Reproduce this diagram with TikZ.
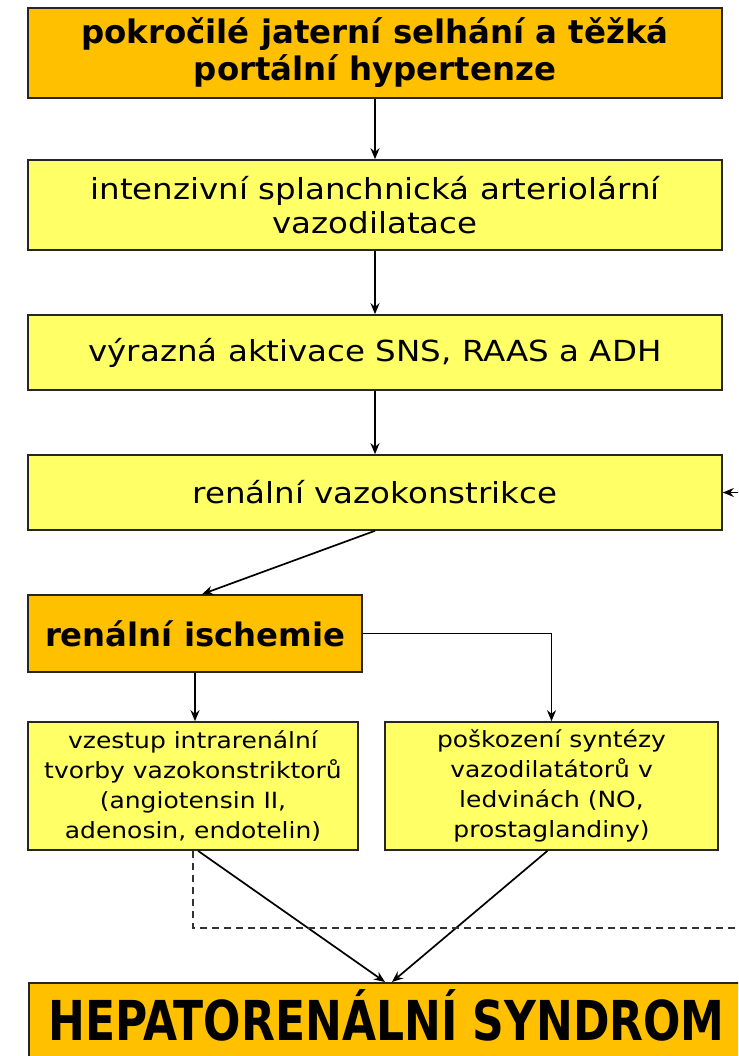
\documentclass[tikz,border=0pt]{standalone}
\usepackage{fontspec}
\setmainfont{DejaVu Sans}
\newfontfamily\hb{DejaVu Sans}
\newfontfamily\hc[FakeStretch=0.8]{DejaVu Sans}
\newfontfamily\hr[FakeStretch=1.12]{DejaVu Sans}
\usetikzlibrary{arrows.meta}
\definecolor{orng}{HTML}{FFC000}
\definecolor{ylw}{HTML}{FFFF66}
\tikzset{
  box/.style={draw=black!85, line width=1.6pt, align=center, inner sep=0pt},
  obox/.style={box, fill=orng},
  ybox/.style={box, fill=ylw},
  conn/.style={line width=1.7pt, -{Stealth[length=11pt,width=9pt]}},
  fb/.style={line width=1.1pt, black!80, dash pattern=on 7pt off 5pt}
}
\begin{document}
\begin{tikzpicture}[x=1pt,y=-1pt]
\clip (0,0) rectangle (738,1056);
\fill[white] (0,0) rectangle (738,1056);
\node[obox, minimum width=694pt, minimum height=90pt,
  font=\hb\bfseries\fontsize{32.4}{37}\selectfont] (top) at (375,53)
  {pokročilé jaterní selhání a těžká\\portální hypertenze};
\node[ybox, minimum width=694pt, minimum height=90pt,
  font=\hr\fontsize{29}{34}\selectfont] (b2) at (375,205)
  {intenzivní splanchnická arteriolární\\vazodilatace};
\node[ybox, minimum width=694pt, minimum height=75pt,
  font=\hr\fontsize{29}{34}\selectfont] (b3) at (375,352.5)
  {výrazná aktivace SNS, RAAS a ADH};
\node[ybox, minimum width=694pt, minimum height=75pt,
  font=\hr\fontsize{29}{34}\selectfont] (b4) at (375,492.5)
  {renální vazokonstrikce};
\node[obox, minimum width=334pt, minimum height=77pt,
  font=\hb\bfseries\fontsize{32.3}{37}\selectfont] (b5) at (195,633.5)
  {renální ischemie};
\node[ybox, minimum width=330pt, minimum height=128pt,
  font=\hr\fontsize{22.3}{30}\selectfont] (b6) at (193,786)
  {vzestup intrarenální\\tvorby vazokonstriktorů\\(angiotensin II,\\adenosin, endotelin)};
\node[ybox, minimum width=333pt, minimum height=128pt,
  font=\hr\fontsize{22.3}{30}\selectfont] (b7) at (551.5,786)
  {poškození syntézy\\vazodilatátorů v\\ledvinách (NO,\\prostaglandiny)};
\node[obox, minimum width=732pt, minimum height=98pt, anchor=north west] (hrs) at (28,982) {};
\node[anchor=base west, inner sep=0pt, font=\hc\bfseries\fontsize{55}{60}\selectfont] (hrst) at (48,1040) {HEPATORENÁLNÍ SYNDROM};

\draw[conn] (top.south) -- (b2.north);
\draw[conn] (b2.south) -- (b3.north);
\draw[conn] (b3.south) -- (b4.north);
\draw[conn] (b4.south) -- ([xshift=7pt]b5.north);
\draw[conn] (b5.east) -| (b7.north);
\draw[conn] (b5.south) -- (b5.south |- b6.north);
\coordinate (e1) at (385,982);
\coordinate (e2) at (392,982);
\draw[conn] ([xshift=5pt]b6.south) -- (e1);
\draw[conn] ([xshift=-4pt]b7.south) -- (e2);
\coordinate (d1) at (193,928);
\coordinate (d2) at (750,928);
\draw[fb] (b6.south) -- (d1) -- (d2) -- (d2 |- b4.east);
\draw[conn] (d2 |- b4.east) -- (b4.east);
\end{tikzpicture}
\end{document}
